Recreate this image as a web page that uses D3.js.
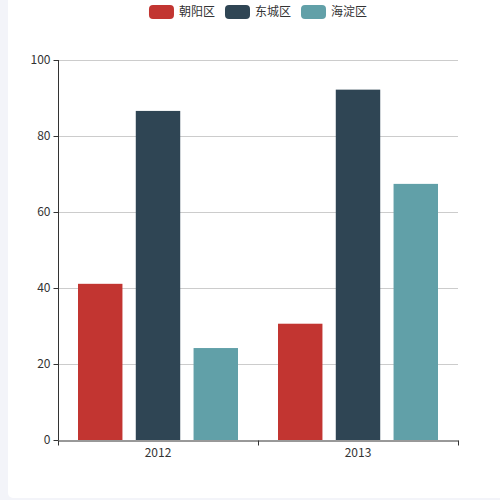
<!DOCTYPE html>
<html>
<head>
<meta charset="utf-8">
<script src="https://cdn.jsdelivr.net/npm/d3@7"></script>
<style>
  html, body { margin: 0; padding: 0; background: #f3f4f9; }
  svg { display: block; }
  text { font-family: "Noto Sans CJK SC", "Microsoft YaHei", sans-serif; font-size: 12px; fill: #333; }
</style>
</head>
<body>
<svg id="chart" width="500" height="500"></svg>
<script>
// chart data
let years = ["2012", "2013"];
let seriesNames = ["朝阳区", "东城区", "海淀区"];
let chaoyang = [41.1, 30.6];
let dongcheng = [86.6, 92.2];
let haidian = [24.2, 67.4];
let yTicks = [0, 20, 40, 60, 80, 100];

let seriesValues = [chaoyang, dongcheng, haidian];
let colors = ["#c23531", "#2f4554", "#61a0a8"];

let svg = d3.select("#chart");

// white card the chart sits in
svg.append("rect")
    .attr("x", 8).attr("y", -4)
    .attr("width", 500).attr("height", 502)
    .attr("rx", 5).attr("fill", "#fff");

let card = svg.append("g").attr("transform", "translate(8,0)");

let margin = {top: 60, right: 50, bottom: 60, left: 50},
    width = 500 - margin.left - margin.right,
    height = 500 - margin.top - margin.bottom,
    g = card.append("g").attr("transform", "translate(" + margin.left + "," + margin.top + ")");

let x0 = d3.scaleBand().domain(years).range([0, width]).paddingInner(0).paddingOuter(0);

// bars use 80% of the band, gap between bars is 30% of bar width
let inner = x0.bandwidth() * 0.8;
let barW = inner / (seriesNames.length + (seriesNames.length - 1) * 0.3);
let x1 = function (i) { return x0.bandwidth() * 0.1 + i * barW * 1.3; };

let y = d3.scaleLinear().domain([0, 100]).range([height, 0]);

// grid lines
g.append("g")
    .selectAll("line")
    .data(yTicks.filter(function (d) { return d !== 0; }))
    .enter().append("line")
    .attr("x1", 0).attr("x2", width)
    .attr("y1", function (d) { return y(d) + 0.5; })
    .attr("y2", function (d) { return y(d) + 0.5; })
    .attr("stroke", "#ccc");

// bars
let table = years.map(function (yr, j) {
    return seriesValues.map(function (vals, i) { return {year: yr, i: i, value: vals[j]}; });
});

g.append("g")
    .selectAll("g")
    .data(table)
    .enter().append("g")
    .attr("transform", function (d) { return "translate(" + x0(d[0].year) + ",0)"; })
    .selectAll("rect")
    .data(function (d) { return d; })
    .enter().append("rect")
    .attr("x", function (d) { return x1(d.i); })
    .attr("y", function (d) { return y(d.value); })
    .attr("width", barW)
    .attr("height", function (d) { return y(0) - y(d.value); })
    .attr("fill", function (d) { return colors[d.i]; });

// x axis
let xAxis = g.append("g")
    .attr("transform", "translate(0," + (height + 0.5) + ")")
    .call(d3.axisBottom(x0).tickSize(0).tickPadding(8));
xAxis.select(".domain").attr("stroke", "#333");
xAxis.selectAll("text").style("font-size", "12px").attr("fill", "#333");
xAxis.selectAll(".tick line").remove();
xAxis.append("g")
    .selectAll("line")
    .data([0, width / 2, width])
    .enter().append("line")
    .attr("x1", function (d) { return d + 0.5; }).attr("x2", function (d) { return d + 0.5; })
    .attr("y1", 0).attr("y2", 5)
    .attr("stroke", "#333");

// y axis
let yAxis = g.append("g")
    .attr("transform", "translate(0.5,0)")
    .call(d3.axisLeft(y).tickValues(yTicks).tickSize(5).tickPadding(3));
yAxis.select(".domain").attr("stroke", "#333").attr("d", "M0," + height + "V0");
yAxis.selectAll(".tick line").attr("stroke", "#333");
yAxis.selectAll("text").style("font-size", "12px").attr("fill", "#333");

// legend
let legend = card.append("g");
let items = legend.selectAll("g")
    .data(seriesNames)
    .enter().append("g");
items.append("rect")
    .attr("width", 25).attr("height", 14)
    .attr("rx", 4).attr("y", 5)
    .attr("fill", function (d, i) { return colors[i]; });
items.append("text")
    .attr("x", 30).attr("y", 12).attr("dy", "0.35em")
    .text(function (d) { return d; });

let pos = 0, offsets = [];
items.each(function () {
    offsets.push(pos);
    pos += 30 + this.querySelector("text").getComputedTextLength() + 10;
});
let total = pos - 10;
items.attr("transform", function (d, i) { return "translate(" + offsets[i] + ",0)"; });
legend.attr("transform", "translate(" + (250 - total / 2) + ",0)");
</script>
</body>
</html>
